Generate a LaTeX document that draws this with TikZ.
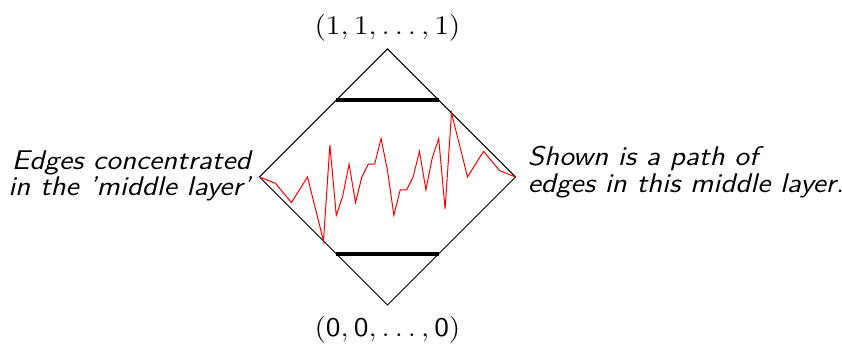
\documentclass[tikz,border=0pt]{standalone}
\usepackage{amsmath,amssymb}
\usepackage{graphicx}
\usepackage{tikz}
\usetikzlibrary{positioning,calc}

\newcommand{\squash}[1]{\scalebox{1}[0.9]{#1}}

\begin{document}
\begin{tikzpicture}[
  edge/.style={thin, black},
  bar/.style={line width=1.6pt, black},
  walk/.style={red, thin, line join=miter},
  vertexlabel/.style={font=\fontsize{11.6}{13}\selectfont},
  sidetext/.style={font=\fontsize{12}{11.7}\selectfont\sffamily\slshape}
]
\useasboundingbox (-5.448,-2.348) rectangle (6.390,2.488);

% Cube corners
\coordinate (top) at (0,1.8);
\coordinate (bot) at (0,-1.8);
\coordinate (lft) at (-1.8,0);
\coordinate (rgt) at (1.8,0);
\draw[edge] (top) -- (rgt) -- (bot) -- (lft) -- cycle;

% Layer bounds
\draw[bar] ($(top)!0.4!(lft)$) -- ($(top)!0.4!(rgt)$);
\draw[bar] ($(bot)!0.4!(lft)$) -- ($(bot)!0.4!(rgt)$);

% Path in the middle layer
\draw[walk] (lft) -- (-1.575,-0.09) -- (-1.35,-0.36) -- (-1.125,0)
  -- (-0.9,-0.9) -- (-0.81,0.45) -- (-0.72,-0.54) -- (-0.63,-0.27)
  -- (-0.54,0.18) -- (-0.45,-0.36) -- (-0.36,0) -- (-0.27,0.18)
  -- (-0.18,0.18) -- (-0.09,0.54) -- (0,0.09) -- (0.09,-0.54)
  -- (0.18,-0.18) -- (0.27,-0.18) -- (0.36,0) -- (0.45,0.36)
  -- (0.54,-0.18) -- (0.63,0.27) -- (0.72,0.54) -- (0.81,-0.45)
  -- (0.9,0.9) -- (1.125,0) -- (1.35,0.36) -- (1.575,0.09) -- (rgt);

% Labels
\node[vertexlabel, above] (toplabel) at ($(top)+(0,-0.02)$) {\squash{$(1,1,\ldots,1)$}};
\node[vertexlabel, below] (botlabel) at ($(bot)+(0,-0.04)$) {\squash{$(\mathsf{0},\mathsf{0},\ldots,\mathsf{0})$}};
\node[sidetext, left] (lefttext) at ($(lft)+(0,0)$)
  {\squash{\begin{tabular}{@{}r@{}}Edges concentrated\\in the 'middle layer'\end{tabular}}};
\node[sidetext, right] (righttext) at ($(rgt)+(0.05,0.05)$)
  {\squash{\begin{tabular}{@{}l@{}}Shown is a path of\\edges in this middle layer.\end{tabular}}};

\end{tikzpicture}
\end{document}
